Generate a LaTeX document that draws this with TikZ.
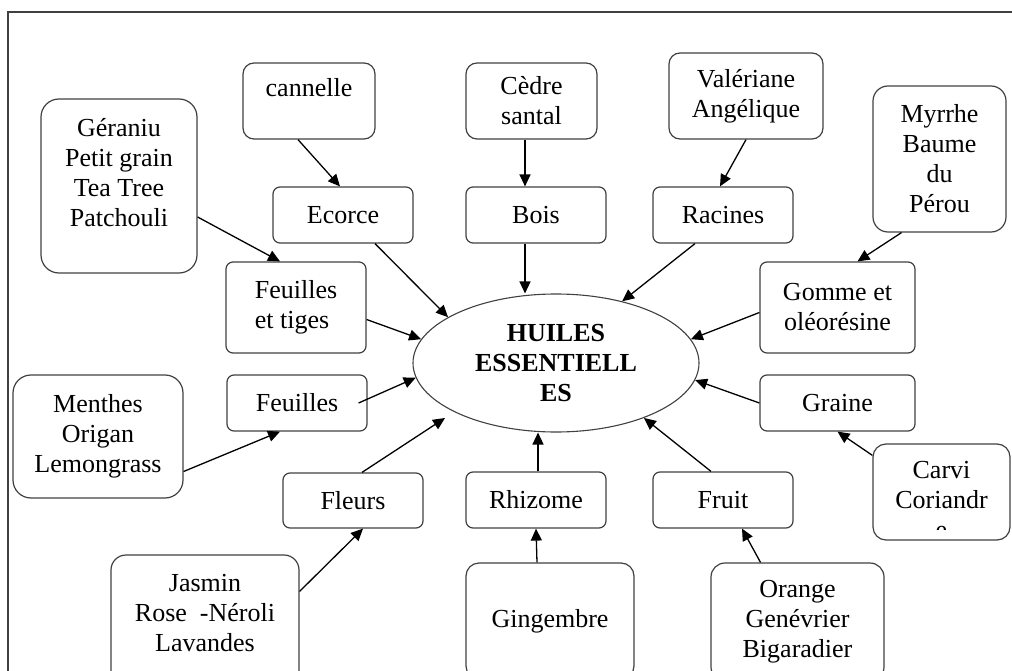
\documentclass[tikz,border=0pt]{standalone}
\usepackage{fontspec}
\setmainfont{Liberation Serif}
\usetikzlibrary{arrows.meta,shapes}
\newcommand{\bigfont}{\fontsize{26}{30}\selectfont}
\tikzstyle{part}=[draw=black!75,line width=1.2pt,rounded corners=7pt,inner sep=0pt,align=center,minimum width=140pt,minimum height=56pt]
\tikzstyle{plant}=[part,rounded corners=11pt]
\tikzstyle{oil}=[ellipse,draw=black!75,line width=1.1pt,inner sep=0pt,align=center,font=\bigfont\bfseries]

\begin{document}
\begin{tikzpicture}[->,>={Triangle[length=12pt,width=11pt]},x=1pt,y=-1pt,
  line width=1.3pt,font=\bigfont]
\useasboundingbox (0,0) rectangle (1012,671);
\clip (0,0) rectangle (1012,671);
\draw[-,black!75,line width=1.2pt] (1012,12) -| (8,671);

% centre
\node (he) [oil,minimum width=286pt,minimum height=138pt] at (556,363) {HUILES\\ESSENTIELL\\ES};

% parties de la plante
\node (ecorce) [part] at (343,215) {Ecorce};
\node (bois) [part] at (536,215) {Bois};
\node (racines) [part] at (723,215) {Racines};
\node (ftiges) [part,minimum height=91pt,align=left] at (296,307.5) {Feuilles\\et tiges};
\node (gomme) [part,minimum width=155pt,minimum height=91pt] at (837.5,307.5) {Gomme et\\oléorésine};
\node (feuilles) [part] at (297,403) {Feuilles};
\node (graine) [part,minimum width=155pt] at (837.5,403) {Graine};
\node (fleurs) [part,minimum height=55pt] at (353,500.5) {Fleurs};
\node (rhizome) [part] at (536,500) {Rhizome};
\node (fruit) [part] at (723,500) {Fruit};

% plantes
\node (cannelle) [plant,minimum width=132pt,minimum height=76pt] at (309,101) {cannelle\\[-12pt]\strut};
\node (cedre) [plant,minimum width=131pt,minimum height=76pt] at (531.5,101) {Cèdre\\santal};
\node (valeriane) [plant,minimum width=154pt,minimum height=86pt] at (746,96) {Valériane\\Angélique};
\node (myrrhe) [plant,rounded corners=15pt,minimum width=133pt,minimum height=146pt] at (939.5,159) {Myrrhe\\Baume\\du\\Pérou};
\node (geraniu) [plant,rounded corners=18pt,minimum width=156pt,minimum height=174pt] at (119,186) {Géraniu\\Petit grain\\Tea Tree\\Patchouli\\[-12pt]\strut};
\node (menthes) [plant,rounded corners=18pt,minimum width=170pt,minimum height=123pt] at (98,436.5) {Menthes\\Origan\\Lemongrass};
\node (carvi) [plant,rounded corners=13pt,minimum width=137pt,minimum height=96pt,path picture={
    \clip ([yshift=11pt]path picture bounding box.south west) rectangle (path picture bounding box.north east);
    \node (carvitext) [draw=none,inner sep=0pt,align=center] at ([yshift=-8pt]path picture bounding box.center) {Carvi\\Coriandr\\e};
  }] at (941.5,492) {};
\node (jasmin) [plant,rounded corners=15pt,minimum width=188pt,minimum height=146pt] at (205,628) {Jasmin\\Rose \ -Néroli\\Lavandes\\[-8pt]\strut};
\node (gingembre) [plant,rounded corners=13pt,minimum width=168pt,minimum height=116pt] at (550,621) {Gingembre};
\node (orange) [plant,rounded corners=14pt,minimum width=173pt,minimum height=118pt] at (797.5,622) {Orange\\Genévrier\\Bigaradier};

% plante -> partie
\draw ([xshift=-11pt]cannelle.south) -- ([xshift=-3pt]ecorce.north);
\draw ([xshift=-6.5pt]cedre.south) -- ([xshift=-11pt]bois.north);
\draw (valeriane.south) -- ([xshift=-3pt]racines.north);
\draw ([xshift=-38pt]myrrhe.south) -- ([xshift=20pt]gomme.north);
\draw ([yshift=-12pt]carvi.north west) -- (graine.south);
\draw ([xshift=-37pt]orange.north) -- ([xshift=19pt]fruit.south);
\draw ([xshift=-13pt]gingembre.north) -- (rhizome.south);
\draw ([yshift=-37pt]jasmin.north east) -- ([xshift=10pt]fleurs.south);
\draw ([yshift=-35pt]menthes.east) -- ([xshift=-17pt]feuilles.south);
\draw ([yshift=-31pt]geraniu.east) -- ([xshift=-16pt]ftiges.north);

% partie -> huiles essentielles
\draw ([xshift=-11pt]bois.south) -- ([xshift=-11pt]bois.south |- he.north);
\draw ([xshift=32pt]ecorce.south) -- (he.157);
\draw ([yshift=-12pt]ftiges.east) -- (he.170);
\draw ([xshift=-9pt]feuilles.east) -- (he.186);
\draw ([xshift=9pt]fleurs.north) -- ([shift={(-111pt,-55pt)}]he.center);
\draw ([xshift=2pt]rhizome.north) -- ([xshift=2pt]rhizome.north |- he.south);
\draw ([xshift=-12pt]fruit.north) -- (he.-32);
\draw (graine.west) -- (he.-7);
\draw ([yshift=-5pt]gomme.west) -- (he.10);
\draw ([xshift=-28pt]racines.south) -- (he.43);
\end{tikzpicture}
\end{document}
